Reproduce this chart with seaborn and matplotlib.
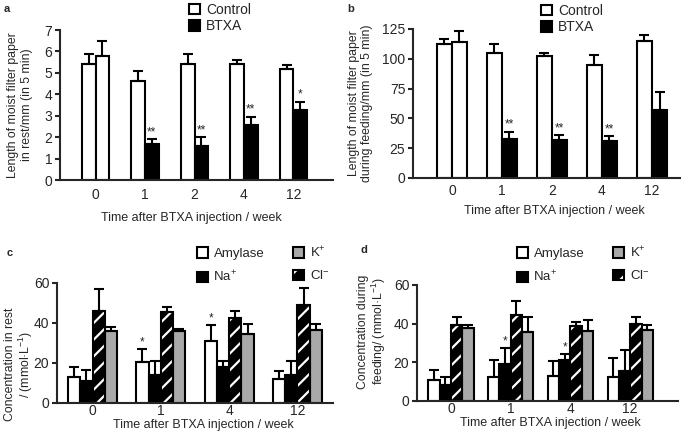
import numpy as np
import pandas as pd
import matplotlib
matplotlib.use("Agg")
import matplotlib.pyplot as plt
import seaborn as sns
from matplotlib.patches import Patch, Rectangle

# ---- data ----
weeks_ab = ["0", "1", "2", "4", "12"]
rest_control = [5.4, 4.6, 5.4, 5.4, 5.2]
rest_control_err = [0.5, 0.5, 0.5, 0.2, 0.15]
rest_btxa = [5.8, 1.7, 1.6, 2.55, 3.25]
rest_btxa_err = [0.7, 0.2, 0.4, 0.4, 0.4]
rest_stars = ["", "**", "**", "**", "*"]

feed_control = [112, 105, 102, 95, 115]
feed_control_err = [5, 7, 3, 8, 5]
feed_btxa = [114, 33, 32, 31, 57]
feed_btxa_err = [9, 6, 4, 4, 15]
feed_stars = ["", "**", "**", "**", ""]

weeks_cd = ["0", "1", "4", "12"]
ions = ["Amylase", "Na+", "Cl-", "K+"]
ion_labels = {"Amylase": "Amylase", "Na+": "Na$^{+}$", "Cl-": "Cl$^{-}$", "K+": "K$^{+}$"}

rest_amylase = [13, 20.5, 31, 12]
rest_amylase_err = [5, 6.5, 8, 4]
rest_na = [11, 14, 18, 14]
rest_na_err = [5.5, 7, 3, 7]
rest_cl = [46, 45.5, 42.5, 49]
rest_cl_err = [11, 2.5, 3.5, 8.5]
rest_k = [36, 36, 34.5, 36.5]
rest_k_err = [2, 1, 5, 3]
rest_ion_stars = {"Amylase": ["", "*", "*", ""]}

feed_amylase = [11, 12.5, 13, 12.5]
feed_amylase_err = [5, 8.5, 7.5, 9.5]
feed_na = [8.5, 19, 21, 15.5]
feed_na_err = [4, 8.5, 3.5, 11]
feed_cl = [39.5, 44.5, 39, 40]
feed_cl_err = [4, 7, 2, 3.5]
feed_k = [38, 35.5, 36, 36.5]
feed_k_err = [1.5, 8, 6, 3]
feed_ion_stars = {"Na+": ["", "*", "*", ""]}

sns.set_style("ticks")
plt.rcParams["font.family"] = ["Liberation Sans", "DejaVu Sans"]
plt.rcParams["mathtext.default"] = "regular"
plt.rcParams["hatch.linewidth"] = 1.6

LW = 1.5
fig = plt.figure(figsize=(6.85, 4.38), dpi=100)
W, H = 685, 438


def axes_px(left, right, top, bottom):
    return fig.add_axes([left / W, 1 - bottom / H, (right - left) / W, (bottom - top) / H])


def style_axis(ax):
    sns.despine(ax=ax)
    for s in ["left", "bottom"]:
        ax.spines[s].set_linewidth(LW)
    ax.tick_params(axis="y", width=LW, length=3.5, labelsize=10, pad=2)
    ax.tick_params(axis="x", length=0, labelsize=10)


def add_errors(ax, bars, vals, errs, stars, star_off):
    xs = [b.get_x() + b.get_width() / 2 for b in bars]
    ax.errorbar(xs, vals, yerr=[np.zeros(len(vals)), errs], fmt="none",
                ecolor="black", elinewidth=LW, capsize=3.5, capthick=LW, zorder=3)
    for x, v, e, s in zip(xs, vals, errs, stars):
        if s:
            ax.text(x, v + e + star_off, s, ha="center", va="bottom", fontsize=8.5)


def pair_panel(ax, control, cerr, btxa, berr, stars, width, star_off):
    df = pd.DataFrame({"week": weeks_ab * 2,
                       "group": ["Control"] * len(weeks_ab) + ["BTXA"] * len(weeks_ab),
                       "value": control + btxa})
    sns.barplot(data=df, x="week", y="value", hue="group", order=weeks_ab,
                hue_order=["Control", "BTXA"], palette={"Control": "white", "BTXA": "black"},
                width=width, edgecolor="black", linewidth=LW, errorbar=None,
                legend=False, ax=ax)
    bars = sorted(ax.patches, key=lambda p: p.get_x())
    bars[1].set_facecolor("white")  # week 0 is before injection
    vals, errs, st = [], [], []
    for i in range(len(weeks_ab)):
        vals += [control[i], btxa[i]]
        errs += [cerr[i], berr[i]]
        st += ["", stars[i]]
    add_errors(ax, bars, vals, errs, st, star_off)
    style_axis(ax)
    leg_handles = [Patch(facecolor="white", edgecolor="black", linewidth=LW),
                   Patch(facecolor="black", edgecolor="black", linewidth=LW)]
    return leg_handles


def ion_panel(ax, series, errs_d, stars_d, width, star_off):
    rows = []
    for ion in ions:
        for w, v in zip(weeks_cd, series[ion]):
            rows.append({"week": w, "ion": ion, "value": v})
    df = pd.DataFrame(rows)
    pal = {"Amylase": "white", "Na+": "black", "Cl-": "black", "K+": "#a9a9a9"}
    sns.barplot(data=df, x="week", y="value", hue="ion", order=weeks_cd, hue_order=ions,
                palette=pal, width=width, edgecolor="black", linewidth=LW,
                errorbar=None, legend=False, ax=ax)
    bars = sorted(ax.patches, key=lambda p: p.get_x())
    vals, errs, st = [], [], []
    for i in range(len(weeks_cd)):
        for ion in ions:
            vals.append(series[ion][i])
            errs.append(errs_d[ion][i])
            st.append(stars_d.get(ion, [""] * len(weeks_cd))[i])
    for j, b in enumerate(bars):
        if ions[j % len(ions)] == "Cl-":
            b.set_hatch("//")
            b.set_edgecolor("white")
            b.set_linewidth(0)
            ax.add_patch(Rectangle((b.get_x(), 0), b.get_width(), b.get_height(),
                                   fill=False, edgecolor="black", linewidth=LW, zorder=2.5))
    add_errors(ax, bars, vals, errs, st, star_off)
    style_axis(ax)
    ax.tick_params(axis="x", pad=1)
    handles = [Patch(facecolor="white", edgecolor="black", linewidth=LW),
               Patch(facecolor="black", edgecolor="black", linewidth=LW),
               Patch(facecolor="#a9a9a9", edgecolor="black", linewidth=LW),
               (Patch(facecolor="black", edgecolor="white", hatch="//", linewidth=0),
                Patch(fill=False, edgecolor="black", linewidth=LW))]
    labels = [ion_labels["Amylase"], ion_labels["Na+"], ion_labels["K+"], ion_labels["Cl-"]]
    return handles, labels


# ---- panel a ----
ax_a = axes_px(60, 333, 30, 180)
h = pair_panel(ax_a, rest_control, rest_control_err, rest_btxa, rest_btxa_err,
               rest_stars, 0.55, 0.05)
ax_a.set_ylim(0, 7)
ax_a.set_yticks(range(0, 8))
ax_a.set_xlim(-0.72, 4.8)
ax_a.set_ylabel("Length of moist filter paper\nin rest/mm (in 5 min)", fontsize=8.8, linespacing=1.15)
ax_a.set_xlabel("Time after BTXA injection / week", fontsize=9)
ax_a.yaxis.set_label_coords(-0.1, 0.5)
ax_a.xaxis.set_label_coords(0.48, -0.21)
ax_a.tick_params(axis="x", pad=6)
ax_a.legend(h, ["Control", "BTXA"], loc="upper left", bbox_to_anchor=(189 / W, 1 - 3 / H),
            bbox_transform=fig.transFigure, frameon=False, fontsize=10, handlelength=0.8,
            handleheight=0.8, handletextpad=0.45, labelspacing=0.15, borderpad=0, borderaxespad=0)

# ---- panel b ----
ax_b = axes_px(413, 680, 29, 178)
h = pair_panel(ax_b, feed_control, feed_control_err, feed_btxa, feed_btxa_err,
               feed_stars, 0.6, 0.8)
ax_b.set_ylim(0, 125)
ax_b.set_yticks(range(0, 126, 25))
ax_b.set_xlim(-0.78, 4.56)
ax_b.set_ylabel("Length of moist filter paper\nduring feeding/mm (in 5 min)", fontsize=8.8, linespacing=1.15)
ax_b.set_xlabel("Time after BTXA injection / week", fontsize=9)
ax_b.yaxis.set_label_coords(-0.15, 0.5)
ax_b.xaxis.set_label_coords(0.53, -0.18)
ax_b.tick_params(axis="x", pad=4)
ax_b.legend(h, ["Control", "BTXA"], loc="upper left", bbox_to_anchor=(541 / W, 1 - 4 / H),
            bbox_transform=fig.transFigure, frameon=False, fontsize=10, handlelength=0.8,
            handleheight=0.8, handletextpad=0.45, labelspacing=0.15, borderpad=0, borderaxespad=0)

# ---- panel c ----
ax_c = axes_px(57, 333, 283, 403)
rest_series = {"Amylase": rest_amylase, "Na+": rest_na, "Cl-": rest_cl, "K+": rest_k}
rest_errs = {"Amylase": rest_amylase_err, "Na+": rest_na_err, "Cl-": rest_cl_err, "K+": rest_k_err}
hc, lc = ion_panel(ax_c, rest_series, rest_errs, rest_ion_stars, 0.72, 0.3)
ax_c.set_ylim(0, 60)
ax_c.set_yticks([0, 20, 40, 60])
ax_c.set_xlim(-0.52, 3.52)
ax_c.set_ylabel("Concentration in rest\n/ (mmol·L$^{-1}$)", fontsize=8.8, linespacing=1.05)
ax_c.set_xlabel("Time after BTXA injection / week", fontsize=9)
ax_c.yaxis.set_label_coords(-0.08, 0.32)
ax_c.xaxis.set_label_coords(0.53, -0.13)
ax_c.legend(hc, lc, ncol=2, loc="upper left", bbox_to_anchor=(197 / W, 1 - 245 / H),
            bbox_transform=fig.transFigure, frameon=False, fontsize=9.5, handlelength=0.8,
            handleheight=0.8, handletextpad=0.45, labelspacing=0.7, columnspacing=2.2,
            borderpad=0, borderaxespad=0)

# ---- panel d ----
ax_d = axes_px(417, 678, 285, 401)
feed_series = {"Amylase": feed_amylase, "Na+": feed_na, "Cl-": feed_cl, "K+": feed_k}
feed_errs = {"Amylase": feed_amylase_err, "Na+": feed_na_err, "Cl-": feed_cl_err, "K+": feed_k_err}
hd, ld = ion_panel(ax_d, feed_series, feed_errs, feed_ion_stars, 0.76, 0.3)
ax_d.set_ylim(0, 60)
ax_d.set_yticks([0, 20, 40, 60])
ax_d.set_xlim(-0.57, 3.8)
ax_d.set_ylabel("Concentration during\nfeeding/ (mmol·L$^{-1}$)", fontsize=8.8, linespacing=1.05)
ax_d.set_xlabel("Time after BTXA injection / week", fontsize=9)
ax_d.yaxis.set_label_coords(-0.11, 0.6)
ax_d.xaxis.set_label_coords(0.51, -0.14)
ax_d.legend(hd, ld, ncol=2, loc="upper left", bbox_to_anchor=(517 / W, 1 - 245 / H),
            bbox_transform=fig.transFigure, frameon=False, fontsize=9.5, handlelength=0.8,
            handleheight=0.8, handletextpad=0.45, labelspacing=0.7, columnspacing=2.2,
            borderpad=0, borderaxespad=0)

# panel letters
for letter, (px, py) in {"a": (4, 9), "b": (347, 9), "c": (7, 253), "d": (361, 250)}.items():
    fig.text(px / W, 1 - py / H, letter, fontsize=8, fontweight="bold", ha="left", va="center")

fig.savefig("out.png", dpi=100)
